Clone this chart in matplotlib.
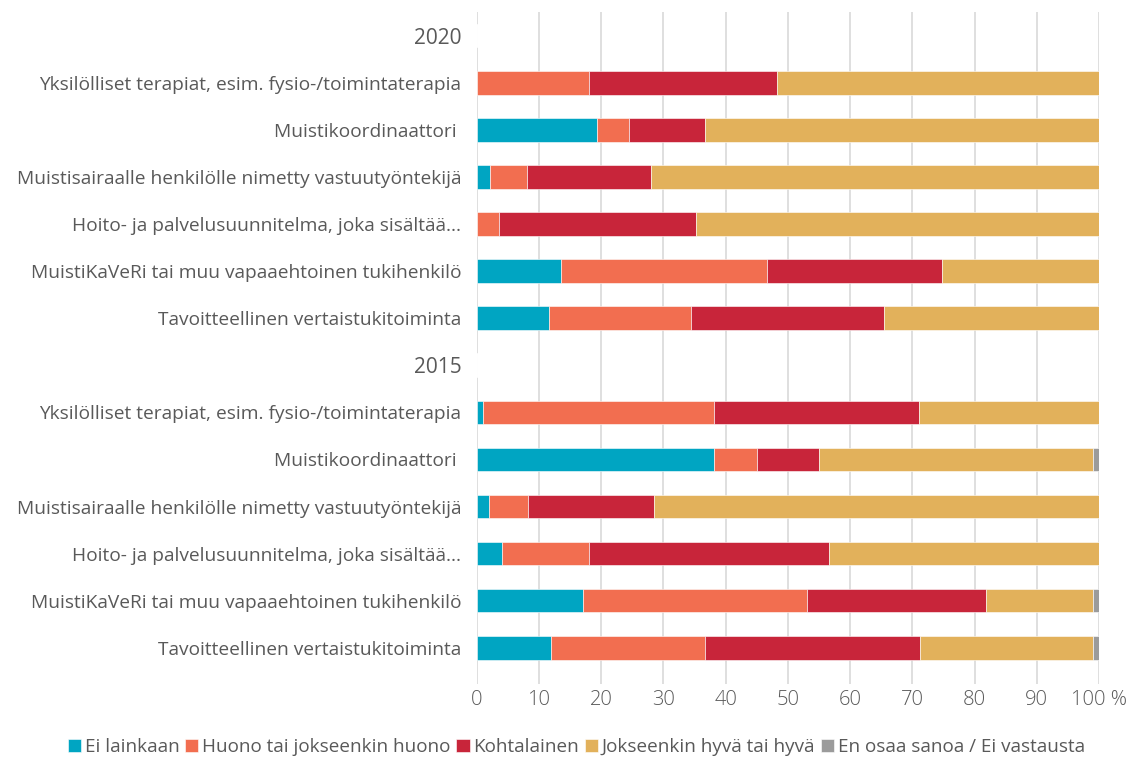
import matplotlib.pyplot as plt
import numpy as np

plt.rcParams['font.family'] = ['Open Sans', 'DejaVu Sans']

# rows from top to bottom; '2020'/'2015' are group header rows
labels = ['2020',
          'Yksilölliset terapiat, esim. fysio-/toimintaterapia',
          'Muistikoordinaattori ',
          'Muistisairaalle henkilölle nimetty vastuutyöntekijä',
          'Hoito- ja palvelusuunnitelma, joka sisältää...',
          'MuistiKaVeRi tai muu vapaaehtoinen tukihenkilö',
          'Tavoitteellinen vertaistukitoiminta',
          '2015',
          'Yksilölliset terapiat, esim. fysio-/toimintaterapia',
          'Muistikoordinaattori ',
          'Muistisairaalle henkilölle nimetty vastuutyöntekijä',
          'Hoito- ja palvelusuunnitelma, joka sisältää...',
          'MuistiKaVeRi tai muu vapaaehtoinen tukihenkilö',
          'Tavoitteellinen vertaistukitoiminta']

series = ['Ei lainkaan', 'Huono tai jokseenkin huono', 'Kohtalainen',
          'Jokseenkin hyvä tai hyvä', 'En osaa sanoa / Ei vastausta']
colors = ['#00A5C2', '#F26E50', '#C8253A', '#E2B15B', '#9B9B9B']

ei_lainkaan = [0, 0.0, 19.4, 2.1, 0.0, 13.6, 11.6, 0, 1.0, 38.1, 2.0, 4.0, 17.0, 11.9]
huono = [0, 18.0, 5.1, 5.9, 3.6, 33.1, 22.9, 0, 37.1, 7.0, 6.2, 14.1, 36.0, 24.8]
kohtalainen = [0, 30.2, 12.2, 20.0, 31.6, 28.1, 30.9, 0, 32.9, 9.9, 20.3, 38.5, 28.9, 34.6]
hyva = [0, 51.8, 63.3, 72.0, 64.8, 25.2, 34.6, 0, 29.0, 44.1, 71.5, 43.4, 17.2, 27.8]
eos = [0, 0, 0, 0, 0, 0, 0, 0, 0, 0.9, 0, 0, 0.9, 0.9]

data = [ei_lainkaan, huono, kohtalainen, hyva, eos]

fig = plt.figure(figsize=(11.46, 7.58), dpi=100)
ax = fig.add_axes([0.416, 0.097, 0.543, 0.887])

y = np.arange(len(labels))
left = np.zeros(len(labels))
for name, vals, c in zip(series, data, colors):
    ax.barh(y, vals, left=left, height=0.5, color=c, label=name,
            edgecolor='white', linewidth=0.4)
    left += np.array(vals)

ax.set_xlim(0, 100)
ax.set_ylim(13.78, -0.5)
ax.set_yticks(y)
ax.set_yticklabels(labels)
for t in ax.get_yticklabels():
    if t.get_text() in ('2020', '2015'):
        t.set_fontsize(15)
    else:
        t.set_fontsize(13.8)
ax.set_xticks(range(0, 101, 10))
ax.set_xticklabels([str(v) for v in range(0, 100, 10)] + ['100 %'],
                   fontsize=14.5, fontweight='light')
ax.tick_params(axis='both', length=0, colors='#595959')
ax.tick_params(axis='y', pad=11)
ax.tick_params(axis='x', pad=4)
for s in ax.spines.values():
    s.set_visible(False)
ax.grid(axis='x', color='#D9D9D9', linewidth=1.2)
ax.set_axisbelow(True)

handles, lbls = ax.get_legend_handles_labels()
leg = fig.legend(handles, lbls, loc='lower center', bbox_to_anchor=(0.503, -0.02),
                 ncol=5, frameon=False, fontsize=13.6, handlelength=0.7,
                 handleheight=0.7, handletextpad=0.2, columnspacing=0.3)
for t in leg.get_texts():
    t.set_color('#595959')

plt.savefig('out.png', dpi=100)
